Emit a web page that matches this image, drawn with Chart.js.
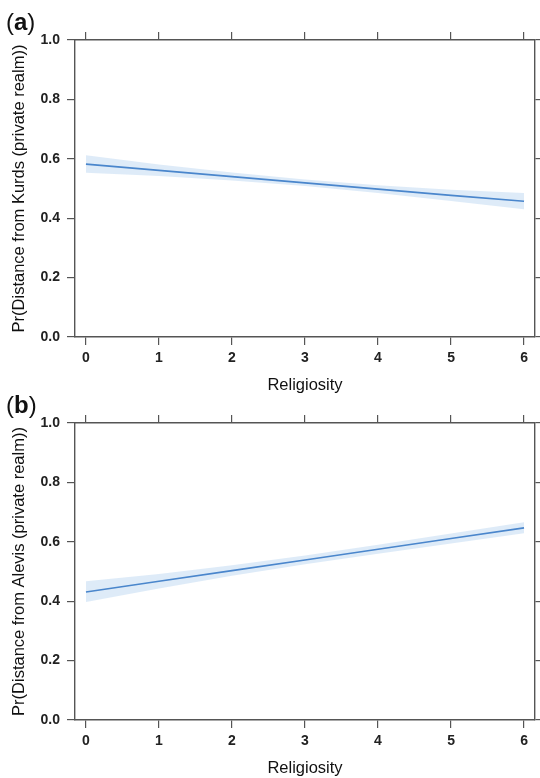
<!DOCTYPE html>
<html>
<head>
<meta charset="utf-8">
<script src="https://cdn.jsdelivr.net/npm/chart.js@4.4.1/dist/chart.umd.min.js"></script>
<style>
  html, body { margin: 0; padding: 0; background: #fff; }
  body { width: 540px; height: 778px; position: relative; overflow: hidden; font-family: "Liberation Sans", Arial, sans-serif; }
  .panel { position: absolute; left: 0; width: 540px; height: 395px; }
  .tag { position: absolute; left: 6px; font-size: 24px; color: #111; line-height: 1; }
  .tag b { font-weight: bold; }
</style>
</head>
<body>
<div class="panel" style="top:0px"><canvas id="ca" width="540" height="395"></canvas></div>
<div class="panel" style="top:383px"><canvas id="cb" width="540" height="395"></canvas></div>
<div class="tag" style="top:10px">(<b>a</b>)</div>
<div class="tag" style="top:393px">(<b>b</b>)</div>
<script>
// ---- data ----
const religiosity = [0, 1, 2, 3, 4, 5, 6];
const xTicks = [0, 1, 2, 3, 4, 5, 6];
const yTicks = [0, 0.2, 0.4, 0.6, 0.8, 1.0];

const kurdsFit   = [0.582, 0.561, 0.540, 0.519, 0.498, 0.477, 0.457];
const kurdsLower = [0.553, 0.542, 0.527, 0.508, 0.485, 0.458, 0.430];
const kurdsUpper = [0.612, 0.581, 0.554, 0.530, 0.511, 0.496, 0.485];

const alevisFit   = [0.431, 0.467, 0.503, 0.539, 0.575, 0.611, 0.647];
const alevisLower = [0.397, 0.443, 0.486, 0.524, 0.560, 0.594, 0.629];
const alevisUpper = [0.467, 0.492, 0.521, 0.554, 0.590, 0.628, 0.666];

const xTitle = "Religiosity";
const yTitleA = "Pr(Distance from Kurds (private realm))";
const yTitleB = "Pr(Distance from Alevis (private realm))";

// ---- styling ----
const FONT = '"Liberation Sans", Arial, sans-serif';
const AXIS_COLOR = '#555555';
const LINE_COLOR = '#4a86cc';
const BAND_COLOR = 'rgba(205, 224, 244, 0.65)';

function pts(xs, ys) { return xs.map((x, i) => ({ x: x, y: ys[i] })); }

function setTicks(vals) {
  return function (scale) { scale.ticks = vals.map(v => ({ value: v })); };
}

function makeChart(id, fit, lower, upper, yTitle) {
  const gridCommon = { drawOnChartArea: false, drawTicks: true, tickLength: 8, color: AXIS_COLOR, lineWidth: 1.2 };
  const borderCommon = { display: true, color: AXIS_COLOR, width: 1.4 };
  return new Chart(document.getElementById(id), {
    type: 'line',
    data: {
      datasets: [
        { data: pts(religiosity, fit), borderColor: LINE_COLOR, borderWidth: 1.6, pointRadius: 0, fill: false, tension: 0 },
        { data: pts(religiosity, lower), borderWidth: 0, pointRadius: 0, fill: false, tension: 0 },
        { data: pts(religiosity, upper), borderWidth: 0, pointRadius: 0, fill: '-1', backgroundColor: BAND_COLOR, tension: 0 }
      ]
    },
    options: {
      responsive: false,
      animation: false,
      events: [],
      layout: { padding: 0 },
      plugins: { legend: { display: false }, tooltip: { enabled: false } },
      scales: {
        x: {
          type: 'linear', position: 'bottom', min: -0.15, max: 6.15,
          afterBuildTicks: setTicks(xTicks),
          afterFit: s => { s.height = 58; },
          grid: gridCommon, border: borderCommon,
          ticks: { color: '#222', padding: 5, font: { family: FONT, size: 14, weight: 'bold' }, maxRotation: 0, callback: v => String(v) },
          title: { display: true, text: xTitle, color: '#111', padding: 0, font: { family: FONT, size: 16.5 } }
        },
        x2: {
          type: 'linear', position: 'top', min: -0.15, max: 6.15,
          afterBuildTicks: setTicks(xTicks),
          afterFit: s => { s.height = 40; },
          grid: gridCommon, border: borderCommon,
          ticks: { display: false }
        },
        y: {
          type: 'linear', position: 'left', min: 0, max: 1,
          afterBuildTicks: setTicks(yTicks),
          afterFit: s => { s.width = 75; },
          grid: gridCommon, border: borderCommon,
          ticks: { color: '#222', padding: 7, font: { family: FONT, size: 14, weight: 'bold' }, callback: v => Number(v).toFixed(1) },
          title: { display: true, text: yTitle, color: '#111', padding: { top: 10, bottom: 0 }, font: { family: FONT, size: 16.5 } }
        },
        y2: {
          type: 'linear', position: 'right', min: 0, max: 1,
          afterBuildTicks: setTicks(yTicks),
          afterFit: s => { s.width = 5; },
          grid: gridCommon, border: borderCommon,
          ticks: { display: false }
        }
      }
    }
  });
}

makeChart('ca', kurdsFit, kurdsLower, kurdsUpper, yTitleA);
makeChart('cb', alevisFit, alevisLower, alevisUpper, yTitleB);
</script>
</body>
</html>
